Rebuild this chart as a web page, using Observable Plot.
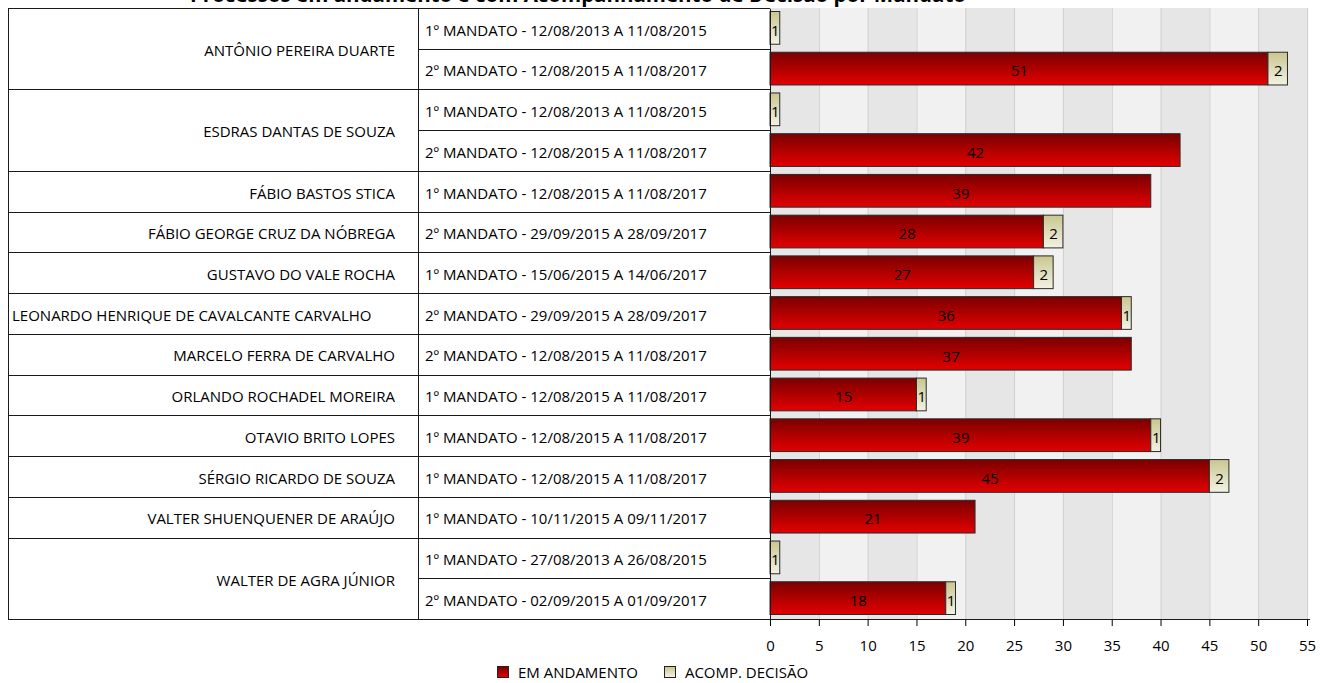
<!DOCTYPE html>
<html><head><meta charset="utf-8">
<script src="https://cdn.jsdelivr.net/npm/d3@7"></script>
<script src="https://cdn.jsdelivr.net/npm/@observablehq/plot@0.6"></script>
<style>
body{margin:0;background:#fff;font-family:"Open Sans",sans-serif;}
#wrap{position:relative;width:1325px;height:683px;overflow:hidden;}
#chart{position:absolute;left:0;top:0;}
#legend{position:absolute;top:662px;left:497px;display:flex;align-items:center;font-size:15px;color:#000;white-space:nowrap;}
.sw{width:12px;height:12px;border:1px solid #222;box-sizing:border-box;margin-right:9px;}
.item{display:flex;align-items:center;margin-right:26px;}
</style></head><body>
<div id="wrap"><div id="chart"></div><div id="legend"></div></div>
<script>
const titleText = "Processos em andamento e com Acompanhamento de Decisão por Mandato";
const names = [
  "ANTÔNIO PEREIRA DUARTE","ANTÔNIO PEREIRA DUARTE",
  "ESDRAS DANTAS DE SOUZA","ESDRAS DANTAS DE SOUZA",
  "FÁBIO BASTOS STICA","FÁBIO GEORGE CRUZ DA NÓBREGA","GUSTAVO DO VALE ROCHA",
  "LEONARDO HENRIQUE DE CAVALCANTE CARVALHO","MARCELO FERRA DE CARVALHO",
  "ORLANDO ROCHADEL MOREIRA","OTAVIO BRITO LOPES","SÉRGIO RICARDO DE SOUZA",
  "VALTER SHUENQUENER DE ARAÚJO","WALTER DE AGRA JÚNIOR","WALTER DE AGRA JÚNIOR"
];
const mandates = [
  "1º MANDATO - 12/08/2013 A 11/08/2015","2º MANDATO - 12/08/2015 A 11/08/2017",
  "1º MANDATO - 12/08/2013 A 11/08/2015","2º MANDATO - 12/08/2015 A 11/08/2017",
  "1º MANDATO - 12/08/2015 A 11/08/2017","2º MANDATO - 29/09/2015 A 28/09/2017",
  "1º MANDATO - 15/06/2015 A 14/06/2017","2º MANDATO - 29/09/2015 A 28/09/2017",
  "2º MANDATO - 12/08/2015 A 11/08/2017","1º MANDATO - 12/08/2015 A 11/08/2017",
  "1º MANDATO - 12/08/2015 A 11/08/2017","1º MANDATO - 12/08/2015 A 11/08/2017",
  "1º MANDATO - 10/11/2015 A 09/11/2017","1º MANDATO - 27/08/2013 A 26/08/2015",
  "2º MANDATO - 02/09/2015 A 01/09/2017"
];
const emAndamento  = [0,51,0,42,39,28,27,36,37,15,39,45,21,0,18];
const acompDecisao = [1, 2,1, 0, 0, 2, 2, 1, 0, 1, 1, 2, 0,1, 1];
const seriesNames = ["EM ANDAMENTO","ACOMP. DECISÃO"];
const xTicks = [0,5,10,15,20,25,30,35,40,45,50,55];

const keys = names.map((n,i)=>String(i));
const long = [];
keys.forEach((k,i)=>{
  long.push({key:k, series:seriesNames[0], value:emAndamento[i]});
  long.push({key:k, series:seriesNames[1], value:acompDecisao[i]});
});
const shown = long.filter(d=>d.value>0);
const stripes = xTicks.slice(0,-1).map((t,i)=>({x1:t, x2:xTicks[i+1], shade: i%2===0}));

const defsMark = () => {
  const defs = d3.create("svg:defs");
  const g1 = defs.append("linearGradient").attr("id","gRed").attr("x1",0).attr("y1",0).attr("x2",0).attr("y2",1);
  g1.append("stop").attr("offset","0%").attr("stop-color","#7a0000");
  g1.append("stop").attr("offset","100%").attr("stop-color","#e40000");
  const g2 = defs.append("linearGradient").attr("id","gBeige").attr("x1",0).attr("y1",0).attr("x2",0).attr("y2",1);
  g2.append("stop").attr("offset","0%").attr("stop-color","#c9c690");
  g2.append("stop").attr("offset","100%").attr("stop-color","#f3f2e3");
  return defs.node();
};

const chart = Plot.plot({
  width: 1325, height: 660,
  marginLeft: 770, marginRight: 18, marginTop: 8, marginBottom: 41,
  style: {fontFamily: "'Open Sans', sans-serif", fontSize: "15px", color: "#000", background: "transparent"},
  x: {domain: [0,55], ticks: xTicks, tickSize: 7, tickPadding: 14, label: null},
  y: {domain: keys, padding: 0, round: false, axis: null},
  color: {domain: seriesNames, range: ["url(#gRed)","url(#gBeige)"]},
  marks: [
    defsMark,
    Plot.rectX(stripes, {x1:"x1", x2:"x2", fill: d=>d.shade ? "#e6e6e6" : "#f1f1f1"}),
    Plot.ruleX(xTicks, {stroke:"#cfcfcf", strokeWidth:1}),
    Plot.barX(shown, Plot.stackX({x:"value", y:"key", fill:"series", order:null, stroke:"#2a2a2a", strokeWidth:1, insetTop:3.5, insetBottom:4.5})),
    Plot.text(shown, Plot.stackX({x:"value", y:"key", text:d=>String(d.value), order:null, fill:"#000", fontSize:15, dy:2}))
  ]
});
document.getElementById("chart").appendChild(chart);

// Table drawn from the chart's own scales
const ys = chart.scale("y"), xs = chart.scale("x");
const bw = ys.bandwidth;
const xLeft = 8, xDiv = 418, x0 = xs.apply(0), xEnd = xs.apply(55) + 3;
const top0 = ys.apply(keys[0]), botN = ys.apply(keys[keys.length-1]) + bw;
const svg = d3.select(chart);
const tg = svg.append("g").attr("stroke","#1a1a1a").attr("stroke-width",1).attr("shape-rendering","crispEdges");
const ln = (x1,y1,x2,y2)=>tg.append("line").attr("x1",x1).attr("y1",y1).attr("x2",x2).attr("y2",y2);
const r = v=>Math.round(v)+0.5;
ln(xLeft, r(top0), x0, r(top0));
ln(xLeft, r(botN), xEnd, r(botN));
[xLeft, xDiv, x0].forEach(x=>ln(r(x), r(top0), r(x), r(botN)));
keys.forEach((k,i)=>{
  if (i===0) return;
  const yy = r(ys.apply(k));
  ln(xDiv, yy, x0, yy);
  if (names[i] !== names[i-1]) ln(xLeft, yy, xDiv, yy);
});
const txt = svg.append("g").attr("font-family","'Open Sans', sans-serif").attr("font-size",15).attr("fill","#000");
keys.forEach((k,i)=>{
  txt.append("text").attr("x", 425).attr("y", ys.apply(k)+bw/2 + 2).attr("dy","0.35em")
    .attr("text-anchor","start").text(mandates[i]);
});
// name groups
const groups = [];
names.forEach((n,i)=>{
  if (i>0 && names[i-1]===n) groups[groups.length-1].end = i;
  else groups.push({name:n, start:i, end:i});
});
groups.forEach(g=>{
  const yc = (ys.apply(keys[g.start]) + ys.apply(keys[g.end]) + bw)/2 + 2;
  const t = txt.append("text").attr("y", yc).attr("dy","0.35em").text(g.name);
  const w = t.node().getComputedTextLength();
  if (w > 340) t.attr("x", 12).attr("text-anchor","start");
  else t.attr("x", 395).attr("text-anchor","end");
});
// title (cut at the top like the reference)
svg.append("text").attr("x", 578).attr("y", 2).attr("text-anchor","middle")
  .attr("font-family","'Open Sans', sans-serif").attr("font-weight","bold").attr("font-size",20.5).text(titleText);

// legend
const lg = d3.select("#legend");
[["linear-gradient(#7a0000,#e40000)",seriesNames[0]],["linear-gradient(#c9c690,#f3f2e3)",seriesNames[1]]].forEach(([bg,label])=>{
  const it = lg.append("div").attr("class","item");
  it.append("div").attr("class","sw").style("background", bg);
  it.append("span").text(label);
});
</script></body></html>
